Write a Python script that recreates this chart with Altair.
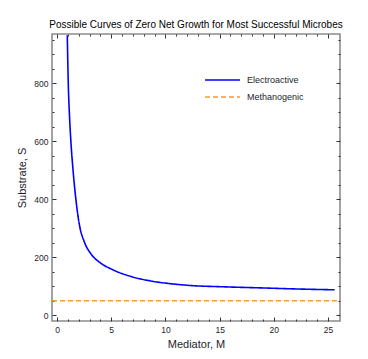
import altair as alt
import pandas as pd

# ---- data ----
electro_M = [0.95, 1.04, 1.15, 1.28, 1.48, 1.74, 2.08, 2.53, 3.14, 3.9, 5.13, 6.96, 8.8, 10.6, 12.45, 15.2, 18.9, 22.5, 25.6]
electro_S = [965, 800, 690, 600, 500, 400, 309, 252, 211, 183, 157, 132, 117, 108, 102, 98, 94, 90, 87.5]
methano_M = [-0.46, 26.1]
methano_S = [50, 50]

series_names = ["Electroactive", "Methanogenic"]
series_colors = ["#0000ff", "#f0a030"]
series_dash = [[1, 0], [5, 3]]

x_labels = [0, 5, 10, 15, 20, 25]
x_ticks = list(range(0, 26))
y_labels = [0, 200, 400, 600, 800]
y_ticks = list(range(0, 951, 50))

x_domain = [-0.46, 26.1]
y_domain = [-20, 969]

df = pd.concat([
    pd.DataFrame({"M": electro_M, "S": electro_S, "series": series_names[0]}),
    pd.DataFrame({"M": methano_M, "S": methano_S, "series": series_names[1]}),
], ignore_index=True)

W, H = 288, 287
FONT = "Liberation Sans"
LABEL_COLOR = "#1e1e2a"
TICK_COLOR = "#333333"

x_scale = alt.Scale(domain=x_domain, nice=False, zero=False)
y_scale = alt.Scale(domain=y_domain, nice=False, zero=False)

legend = alt.Legend(
    title=None, orient="none", legendX=152, legendY=40,
    symbolType="stroke", symbolSize=1225, symbolStrokeWidth=1.6,
    clipHeight=12, rowPadding=5, labelOffset=6, padding=0,
    labelFont=FONT, labelFontSize=9, labelColor=LABEL_COLOR,
)

base = alt.Chart(df)

lines = base.mark_line(clip=True, strokeWidth=1.6, interpolate="monotone").encode(
    x=alt.X("M:Q", scale=x_scale, axis=alt.Axis(
        orient="bottom", values=x_labels, ticks=False, tickSize=0, domain=False, grid=False,
        labelPadding=4, labelFontSize=8.5, labelFont=FONT, labelColor=LABEL_COLOR,
        title="Mediator, M", titleFont=FONT, titleFontSize=11, titleFontWeight="normal",
        titleColor=LABEL_COLOR, titlePadding=5)),
    y=alt.Y("S:Q", scale=y_scale, axis=alt.Axis(
        orient="left", values=y_labels, ticks=False, tickSize=0, domain=False, grid=False,
        labelPadding=4, labelFontSize=8.5, labelFont=FONT, labelColor=LABEL_COLOR,
        title="Substrate, S", titleFont=FONT, titleFontSize=11, titleFontWeight="normal",
        titleColor=LABEL_COLOR, titlePadding=6)),
    color=alt.Color("series:N", scale=alt.Scale(domain=series_names, range=series_colors), legend=legend),
    strokeDash=alt.StrokeDash("series:N", scale=alt.Scale(domain=series_names, range=series_dash), legend=legend),
    detail="series:N",
)

x_tick_size = {"condition": {"test": "datum.value % 5 === 0", "value": 4}, "value": 2}
y_tick_size = {"condition": {"test": "datum.value % 200 === 0", "value": 4}, "value": 2}

def tick_axis(orient, offset, values, size):
    return alt.Axis(orient=orient, offset=offset, values=values, labels=False, domain=False,
                    grid=False, title="", tickSize=size, tickColor=TICK_COLOR, tickWidth=1)

ticks_a = base.mark_point(opacity=0, clip=True).encode(
    x=alt.X("M:Q", scale=x_scale, axis=tick_axis("top", -H, x_ticks, x_tick_size)),
    y=alt.Y("S:Q", scale=y_scale, axis=tick_axis("right", -W, y_ticks, y_tick_size)),
)
ticks_b = base.mark_point(opacity=0, clip=True).encode(
    x=alt.X("M:Q", scale=x_scale, axis=tick_axis("bottom", -H, x_ticks, x_tick_size)),
    y=alt.Y("S:Q", scale=y_scale, axis=tick_axis("left", -W, y_ticks, y_tick_size)),
)

chart = alt.layer(lines, ticks_a, ticks_b).resolve_axis(
    x="independent", y="independent"
).properties(
    width=W, height=H,
    title=alt.Title("Possible Curves of Zero Net Growth for Most Successful Microbes",
                    font=FONT, fontSize=10, fontWeight="normal", color="black",
                    anchor="middle", offset=4),
    padding={"left": 8, "top": 11, "right": 5, "bottom": 5},
).configure_view(stroke="#8c8c8c", strokeWidth=1.6)

chart.save("out.html", embed_options={"renderer": "svg", "actions": False})
